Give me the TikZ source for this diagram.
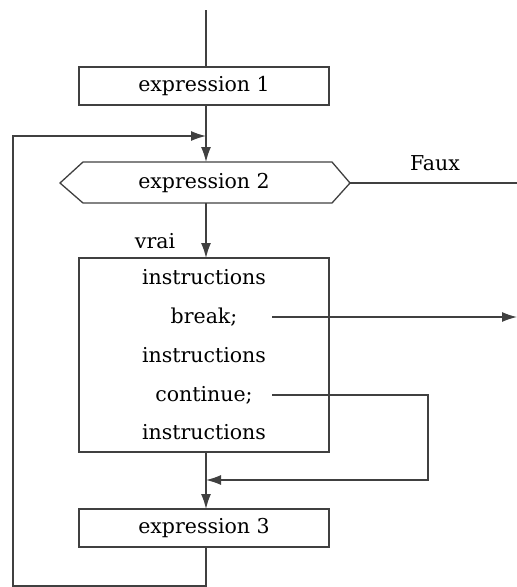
\documentclass[tikz,border=0pt]{standalone}
\usepackage{fontspec}
\setmainfont{DejaVu Serif}
\usetikzlibrary{arrows.meta}
\begin{document}
\begin{tikzpicture}[x=1pt,y=-1pt,
  ln/.style={draw=black!75,line width=1.3pt},
  arr/.style={ln,-{Latex[length=15pt,width=10pt]}},
  box/.style={ln,rectangle,minimum width=250pt,inner sep=0pt},
  txt/.style={font=\fontsize{20.5}{22}\selectfont,inner sep=0pt},
  lbl/.style={font=\fontsize{20.5}{22}\selectfont,inner sep=0pt}]
\useasboundingbox (0,0) rectangle (517,587);
% boxes
\node[box,minimum height=38pt] (e1) at (204,86) {};
\node[txt] (t1) at (204,86) {expression 1};
\draw[ln] (83,162) -- (332,162) -- (350,183) -- (332,203) -- (83,203) -- (60,183) -- cycle;
\coordinate (e2t) at (206,162);
\coordinate (e2b) at (206,203);
\coordinate (e2r) at (350,183);
\node[txt] (t2) at (204,183) {expression 2};
\node[box,minimum height=194pt] (ib) at (204,355) {};
\node[txt] (i1) at (204,277) {instructions};
\node[txt] (br) at (204,317) {break;};
\node[txt] (i2) at (204,355) {instructions};
\node[txt] (co) at (204,395) {continue;};
\node[txt] (i3) at (204,432) {instructions};
\node[box,minimum height=38pt] (e3) at (204,528) {};
\node[txt] (t3) at (204,528) {expression 3};
\node[lbl] (faux) at (435,163) {Faux};
\node[lbl] (vrai) at (155,241) {vrai};
% coordinates
\coordinate (top) at (206,10);
\coordinate (m1) at (206,136);
\coordinate (m2) at (206,480);
\coordinate (bo) at (206,586);
\coordinate (bl) at (13,586);
\coordinate (tl) at (13,136);
\coordinate (fx) at (517,183);
\coordinate (bs) at (272,317);
\coordinate (be) at (517,317);
\coordinate (cs) at (272,395);
\coordinate (cr) at (428,395);
\coordinate (cb) at (428,480);
% connectors
\draw[ln] (top) -- (206,67);
\draw[ln] (206,105) -- (m1);
\draw[arr] (m1) -- (e2t);
\draw[arr] (e2b) -- (206,258);
\draw[ln] (e2r) -- (fx);
\draw[arr] (bs) -- (be);
\draw[arr] (cs) -- (cr) -- (cb) -- (m2);
\draw[ln] (206,452) -- (m2);
\draw[arr] (m2) -- (206,509);
\draw[arr] (206,547) -- (bo) -- (bl) -- (tl) -- (m1);
\end{tikzpicture}
\end{document}
